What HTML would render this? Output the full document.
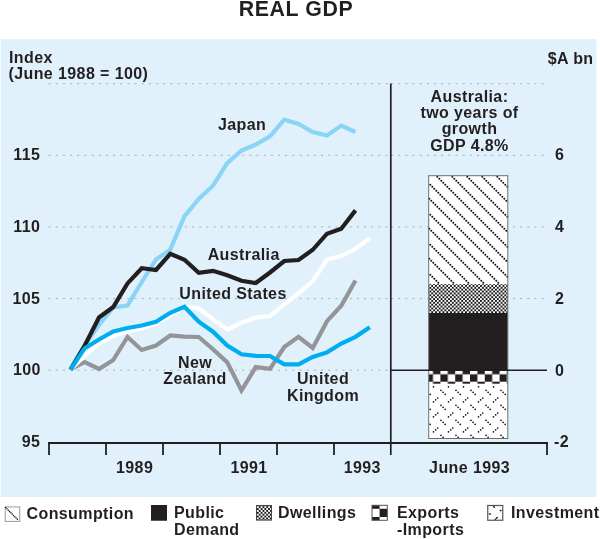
<!DOCTYPE html>
<html><head><meta charset="utf-8"><style>
html,body{margin:0;padding:0;background:#fff;}
body{width:600px;height:539px;overflow:hidden;}
svg{display:block;will-change:transform;}
text{font-family:"Liberation Sans",sans-serif;font-weight:bold;fill:#231f20;font-size:16px;letter-spacing:0.4px;}
.g{stroke:#a9adb2;stroke-width:1;stroke-dasharray:2 5.17;}
.ax{stroke:#231f20;stroke-width:1.8;fill:none;}
.ln{fill:none;stroke-width:4.2;stroke-linejoin:miter;stroke-miterlimit:4;}
.m{text-anchor:middle;}
.r{text-anchor:end;}
</style></head><body>
<svg width="600" height="539" viewBox="0 0 600 539">
<defs>
<pattern id="pDw" patternUnits="userSpaceOnUse" width="3.75" height="3.75">
<rect width="3.75" height="3.75" fill="#fff"/>
<rect width="1.875" height="1.875" fill="#1a1a1a"/>
<rect x="1.875" y="1.875" width="1.875" height="1.875" fill="#1a1a1a"/>
</pattern>
<pattern id="pEx" patternUnits="userSpaceOnUse" width="14.8" height="14.8" x="425.6" y="366.9">
<rect width="14.8" height="14.8" fill="#231f20"/>
<rect x="0" y="0" width="7.4" height="7.4" fill="#fff"/>
<rect x="7.4" y="7.4" width="7.4" height="7.4" fill="#fff"/>
</pattern>
</defs>
<rect x="0" y="0" width="600" height="539" fill="#fff"/>
<rect x="0.6" y="39.2" width="595.9" height="457.8" fill="#e0f1fc"/>
<text x="296" y="16" class="m" style="font-size:21.3px;letter-spacing:0.6px">REAL GDP</text>
<line x1="48.6" y1="83.7" x2="390" y2="83.7" class="g"/>
<line x1="48.6" y1="155.3" x2="390" y2="155.3" class="g"/>
<line x1="48.6" y1="226.9" x2="390" y2="226.9" class="g"/>
<line x1="48.6" y1="298.6" x2="390" y2="298.6" class="g"/>
<line x1="48.6" y1="370.2" x2="390" y2="370.2" class="g"/>
<line x1="391" y1="83.7" x2="546" y2="83.7" class="g"/>
<line x1="391" y1="155.3" x2="546" y2="155.3" class="g"/>
<line x1="391" y1="226.9" x2="546" y2="226.9" class="g"/>
<line x1="391" y1="298.6" x2="546" y2="298.6" class="g"/>
<!-- axes -->
<line x1="48" y1="443" x2="548" y2="443" class="ax"/>
<line x1="49" y1="443" x2="49" y2="455" class="ax"/>
<line x1="106" y1="443" x2="106" y2="455" class="ax"/>
<line x1="163" y1="443" x2="163" y2="455" class="ax"/>
<line x1="220" y1="443" x2="220" y2="455" class="ax"/>
<line x1="277" y1="443" x2="277" y2="455" class="ax"/>
<line x1="334" y1="443" x2="334" y2="455" class="ax"/>
<line x1="547" y1="442" x2="547" y2="455" class="ax"/>
<line x1="390.8" y1="83.5" x2="390.8" y2="455" class="ax" style="stroke-width:1.7"/>
<!-- bar -->
<rect x="428.7" y="175.7" width="79.10" height="262.80" fill="#fff"/>
<path d="M430.30,274.80h0 M432.30,276.80h0 M434.30,278.80h0 M436.30,280.80h0 M438.30,282.80h0 M429.30,258.80h0 M431.30,260.80h0 M433.30,262.80h0 M435.30,264.80h0 M437.30,266.80h0 M439.30,268.80h0 M441.30,270.80h0 M443.30,272.80h0 M445.30,274.80h0 M447.30,276.80h0 M449.30,278.80h0 M451.30,280.80h0 M453.30,282.80h0 M430.30,244.80h0 M432.30,246.80h0 M434.30,248.80h0 M436.30,250.80h0 M438.30,252.80h0 M440.30,254.80h0 M442.30,256.80h0 M444.30,258.80h0 M446.30,260.80h0 M448.30,262.80h0 M450.30,264.80h0 M452.30,266.80h0 M454.30,268.80h0 M456.30,270.80h0 M458.30,272.80h0 M460.30,274.80h0 M462.30,276.80h0 M464.30,278.80h0 M466.30,280.80h0 M468.30,282.80h0 M429.30,228.80h0 M431.30,230.80h0 M433.30,232.80h0 M435.30,234.80h0 M437.30,236.80h0 M439.30,238.80h0 M441.30,240.80h0 M443.30,242.80h0 M445.30,244.80h0 M447.30,246.80h0 M449.30,248.80h0 M451.30,250.80h0 M453.30,252.80h0 M455.30,254.80h0 M457.30,256.80h0 M459.30,258.80h0 M461.30,260.80h0 M463.30,262.80h0 M465.30,264.80h0 M467.30,266.80h0 M469.30,268.80h0 M471.30,270.80h0 M473.30,272.80h0 M475.30,274.80h0 M477.30,276.80h0 M479.30,278.80h0 M481.30,280.80h0 M483.30,282.80h0 M430.30,214.80h0 M432.30,216.80h0 M434.30,218.80h0 M436.30,220.80h0 M438.30,222.80h0 M440.30,224.80h0 M442.30,226.80h0 M444.30,228.80h0 M446.30,230.80h0 M448.30,232.80h0 M450.30,234.80h0 M452.30,236.80h0 M454.30,238.80h0 M456.30,240.80h0 M458.30,242.80h0 M460.30,244.80h0 M462.30,246.80h0 M464.30,248.80h0 M466.30,250.80h0 M468.30,252.80h0 M470.30,254.80h0 M472.30,256.80h0 M474.30,258.80h0 M476.30,260.80h0 M478.30,262.80h0 M480.30,264.80h0 M482.30,266.80h0 M484.30,268.80h0 M486.30,270.80h0 M488.30,272.80h0 M490.30,274.80h0 M492.30,276.80h0 M494.30,278.80h0 M496.30,280.80h0 M498.30,282.80h0 M429.30,198.80h0 M431.30,200.80h0 M433.30,202.80h0 M435.30,204.80h0 M437.30,206.80h0 M439.30,208.80h0 M441.30,210.80h0 M443.30,212.80h0 M445.30,214.80h0 M447.30,216.80h0 M449.30,218.80h0 M451.30,220.80h0 M453.30,222.80h0 M455.30,224.80h0 M457.30,226.80h0 M459.30,228.80h0 M461.30,230.80h0 M463.30,232.80h0 M465.30,234.80h0 M467.30,236.80h0 M469.30,238.80h0 M471.30,240.80h0 M473.30,242.80h0 M475.30,244.80h0 M477.30,246.80h0 M479.30,248.80h0 M481.30,250.80h0 M483.30,252.80h0 M485.30,254.80h0 M487.30,256.80h0 M489.30,258.80h0 M491.30,260.80h0 M493.30,262.80h0 M495.30,264.80h0 M497.30,266.80h0 M499.30,268.80h0 M501.30,270.80h0 M503.30,272.80h0 M505.30,274.80h0 M507.30,276.80h0 M430.30,184.80h0 M432.30,186.80h0 M434.30,188.80h0 M436.30,190.80h0 M438.30,192.80h0 M440.30,194.80h0 M442.30,196.80h0 M444.30,198.80h0 M446.30,200.80h0 M448.30,202.80h0 M450.30,204.80h0 M452.30,206.80h0 M454.30,208.80h0 M456.30,210.80h0 M458.30,212.80h0 M460.30,214.80h0 M462.30,216.80h0 M464.30,218.80h0 M466.30,220.80h0 M468.30,222.80h0 M470.30,224.80h0 M472.30,226.80h0 M474.30,228.80h0 M476.30,230.80h0 M478.30,232.80h0 M480.30,234.80h0 M482.30,236.80h0 M484.30,238.80h0 M486.30,240.80h0 M488.30,242.80h0 M490.30,244.80h0 M492.30,246.80h0 M494.30,248.80h0 M496.30,250.80h0 M498.30,252.80h0 M500.30,254.80h0 M502.30,256.80h0 M504.30,258.80h0 M506.30,260.80h0 M437.30,176.80h0 M439.30,178.80h0 M441.30,180.80h0 M443.30,182.80h0 M445.30,184.80h0 M447.30,186.80h0 M449.30,188.80h0 M451.30,190.80h0 M453.30,192.80h0 M455.30,194.80h0 M457.30,196.80h0 M459.30,198.80h0 M461.30,200.80h0 M463.30,202.80h0 M465.30,204.80h0 M467.30,206.80h0 M469.30,208.80h0 M471.30,210.80h0 M473.30,212.80h0 M475.30,214.80h0 M477.30,216.80h0 M479.30,218.80h0 M481.30,220.80h0 M483.30,222.80h0 M485.30,224.80h0 M487.30,226.80h0 M489.30,228.80h0 M491.30,230.80h0 M493.30,232.80h0 M495.30,234.80h0 M497.30,236.80h0 M499.30,238.80h0 M501.30,240.80h0 M503.30,242.80h0 M505.30,244.80h0 M507.30,246.80h0 M452.30,176.80h0 M454.30,178.80h0 M456.30,180.80h0 M458.30,182.80h0 M460.30,184.80h0 M462.30,186.80h0 M464.30,188.80h0 M466.30,190.80h0 M468.30,192.80h0 M470.30,194.80h0 M472.30,196.80h0 M474.30,198.80h0 M476.30,200.80h0 M478.30,202.80h0 M480.30,204.80h0 M482.30,206.80h0 M484.30,208.80h0 M486.30,210.80h0 M488.30,212.80h0 M490.30,214.80h0 M492.30,216.80h0 M494.30,218.80h0 M496.30,220.80h0 M498.30,222.80h0 M500.30,224.80h0 M502.30,226.80h0 M504.30,228.80h0 M506.30,230.80h0 M467.30,176.80h0 M469.30,178.80h0 M471.30,180.80h0 M473.30,182.80h0 M475.30,184.80h0 M477.30,186.80h0 M479.30,188.80h0 M481.30,190.80h0 M483.30,192.80h0 M485.30,194.80h0 M487.30,196.80h0 M489.30,198.80h0 M491.30,200.80h0 M493.30,202.80h0 M495.30,204.80h0 M497.30,206.80h0 M499.30,208.80h0 M501.30,210.80h0 M503.30,212.80h0 M505.30,214.80h0 M507.30,216.80h0 M482.30,176.80h0 M484.30,178.80h0 M486.30,180.80h0 M488.30,182.80h0 M490.30,184.80h0 M492.30,186.80h0 M494.30,188.80h0 M496.30,190.80h0 M498.30,192.80h0 M500.30,194.80h0 M502.30,196.80h0 M504.30,198.80h0 M506.30,200.80h0 M497.30,176.80h0 M499.30,178.80h0 M501.30,180.80h0 M503.30,182.80h0 M505.30,184.80h0 M507.30,186.80h0" stroke="#111" stroke-width="2.0" stroke-linecap="round" fill="none"/>
<rect x="428.7" y="284.2" width="79.10" height="28.80" fill="url(#pDw)"/>
<rect x="428.7" y="313.0" width="79.10" height="57.20" fill="#231f20"/>
<rect x="428.7" y="370.2" width="79.10" height="13.50" fill="url(#pEx)"/>
<path d="M430.20,394.30h0 M430.20,409.30h0 M430.20,424.30h0 M433.50,386.80h0 M441.00,390.30h0 M443.10,392.30h0 M445.20,394.30h0 M437.70,398.00h0 M435.70,399.80h0 M433.50,401.80h0 M441.00,405.30h0 M443.10,407.30h0 M445.20,409.30h0 M437.70,413.00h0 M435.70,414.80h0 M433.50,416.80h0 M441.00,420.30h0 M443.10,422.30h0 M445.20,424.30h0 M437.70,428.00h0 M435.70,429.80h0 M433.50,431.80h0 M441.00,435.30h0 M443.10,437.30h0 M448.50,386.80h0 M456.00,390.30h0 M458.10,392.30h0 M460.20,394.30h0 M452.70,398.00h0 M450.70,399.80h0 M448.50,401.80h0 M456.00,405.30h0 M458.10,407.30h0 M460.20,409.30h0 M452.70,413.00h0 M450.70,414.80h0 M448.50,416.80h0 M456.00,420.30h0 M458.10,422.30h0 M460.20,424.30h0 M452.70,428.00h0 M450.70,429.80h0 M448.50,431.80h0 M456.00,435.30h0 M458.10,437.30h0 M463.50,386.80h0 M471.00,390.30h0 M473.10,392.30h0 M475.20,394.30h0 M467.70,398.00h0 M465.70,399.80h0 M463.50,401.80h0 M471.00,405.30h0 M473.10,407.30h0 M475.20,409.30h0 M467.70,413.00h0 M465.70,414.80h0 M463.50,416.80h0 M471.00,420.30h0 M473.10,422.30h0 M475.20,424.30h0 M467.70,428.00h0 M465.70,429.80h0 M463.50,431.80h0 M471.00,435.30h0 M473.10,437.30h0 M478.50,386.80h0 M486.00,390.30h0 M488.10,392.30h0 M490.20,394.30h0 M482.70,398.00h0 M480.70,399.80h0 M478.50,401.80h0 M486.00,405.30h0 M488.10,407.30h0 M490.20,409.30h0 M482.70,413.00h0 M480.70,414.80h0 M478.50,416.80h0 M486.00,420.30h0 M488.10,422.30h0 M490.20,424.30h0 M482.70,428.00h0 M480.70,429.80h0 M478.50,431.80h0 M486.00,435.30h0 M488.10,437.30h0 M493.50,386.80h0 M501.00,390.30h0 M503.10,392.30h0 M505.20,394.30h0 M497.70,398.00h0 M495.70,399.80h0 M493.50,401.80h0 M501.00,405.30h0 M503.10,407.30h0 M505.20,409.30h0 M497.70,413.00h0 M495.70,414.80h0 M493.50,416.80h0 M501.00,420.30h0 M503.10,422.30h0 M505.20,424.30h0 M497.70,428.00h0 M495.70,429.80h0 M493.50,431.80h0 M501.00,435.30h0 M503.10,437.30h0" stroke="#111" stroke-width="1.7" stroke-linecap="round" fill="none"/>
<rect x="428.7" y="175.7" width="79.10" height="262.80" fill="none" stroke="#6d6e71" stroke-width="1"/>
<line x1="391" y1="370.2" x2="547" y2="370.2" class="ax" style="stroke-width:1.5"/>
<!-- lines -->
<polyline class="ln" stroke="#8ad4f6" points="70.50,369.50 84.75,345.00 99.00,325.00 113.25,307.50 127.50,305.50 141.75,282.00 156.00,259.50 170.25,249.60 184.50,216.20 198.75,199.00 213.00,185.70 227.25,163.10 241.50,150.50 255.75,144.50 270.00,136.40 284.25,119.60 298.50,124.00 312.75,132.00 327.00,135.60 341.25,125.60 355.50,132.00"/>
<polyline class="ln" stroke="#939598" points="70.50,369.50 84.75,362.00 99.00,369.00 113.25,360.00 127.50,337.00 141.75,350.00 156.00,345.50 170.25,335.50 184.50,336.70 198.75,337.00 213.00,349.20 227.25,362.40 241.50,390.50 255.75,367.10 270.00,368.80 284.25,347.00 298.50,336.80 312.75,348.00 327.00,321.20 341.25,305.70 355.50,280.50"/>
<polyline class="ln" stroke="#ffffff" points="70.50,369.50 84.75,355.50 99.00,343.50 113.25,336.00 127.50,331.50 141.75,328.30 156.00,323.50 170.25,315.50 184.50,307.00 198.75,308.30 213.00,319.20 227.25,329.50 241.50,322.70 255.75,317.60 270.00,316.00 284.25,304.30 298.50,293.40 312.75,281.20 327.00,259.50 341.25,256.00 355.50,248.80 369.75,238.40"/>
<polyline class="ln" stroke="#231f20" points="70.50,369.50 84.75,345.50 99.00,317.50 113.25,307.00 127.50,283.40 141.75,268.20 156.00,270.00 170.25,253.80 184.50,259.80 198.75,272.80 213.00,270.80 227.25,275.30 241.50,280.80 255.75,283.00 270.00,272.50 284.25,261.00 298.50,260.00 312.75,249.80 327.00,233.70 341.25,228.70 355.50,210.40"/>
<polyline class="ln" stroke="#00aeef" points="70.50,369.50 84.75,348.20 99.00,339.50 113.25,331.50 127.50,328.00 141.75,325.50 156.00,321.70 170.25,312.80 184.50,306.70 198.75,321.70 213.00,331.70 227.25,345.50 241.50,354.30 255.75,355.80 270.00,356.00 284.25,364.40 298.50,364.40 312.75,357.00 327.00,352.40 341.25,343.50 355.50,336.80 369.75,327.30"/>
<!-- left axis labels -->
<text x="9" y="62.7">Index</text>
<text x="8.5" y="78.7">(June 1988 = 100)</text>
<text x="40.3" y="160" class="r">115</text>
<text x="40.3" y="232" class="r">110</text>
<text x="40.3" y="304" class="r">105</text>
<text x="40.8" y="375" class="r">100</text>
<text x="40.3" y="447" class="r">95</text>
<!-- right axis labels -->
<text x="593.5" y="64" class="r">$A bn</text>
<text x="555" y="160">6</text>
<text x="555" y="232">4</text>
<text x="555" y="304">2</text>
<text x="555" y="375.5">0</text>
<text x="554" y="446.5">-2</text>
<!-- x labels -->
<text x="134.6" y="473.2" class="m">1989</text>
<text x="249" y="473.2" class="m">1991</text>
<text x="362.3" y="473.2" class="m">1993</text>
<text x="469.6" y="473" class="m">June 1993</text>
<!-- series labels -->
<text x="242" y="130" class="m">Japan</text>
<text x="243.7" y="259.7" class="m">Australia</text>
<text x="233" y="298.5" class="m">United States</text>
<text x="195" y="367.5" class="m">New</text>
<text x="195" y="384.2" class="m">Zealand</text>
<text x="323" y="384.2" class="m">United</text>
<text x="323" y="401.3" class="m">Kingdom</text>
<text x="469.5" y="101.7" class="m">Australia:</text>
<text x="469.5" y="118" class="m">two years of</text>
<text x="469.5" y="134.4" class="m">growth</text>
<text x="469.5" y="151.2" class="m">GDP 4.8%</text>
<!-- legend -->
<rect x="5.25" y="506.9" width="14.5" height="14.5" fill="#fff" stroke="#999" stroke-width="1"/>
<path d="M5.6,507.5 L18,519.9" stroke="#111" stroke-width="1.4" stroke-dasharray="0.01 1.85" stroke-linecap="round"/>
<text x="26.5" y="518.5">Consumption</text>
<rect x="151" y="505" width="16" height="15.75" fill="#231f20"/>
<text x="174" y="518">Public</text>
<text x="174" y="534.7">Demand</text>
<rect x="256.5" y="505.5" width="15" height="14.6" fill="url(#pDw)" stroke="#444" stroke-width="1"/>
<text x="278" y="518">Dwellings</text>
<g>
<rect x="372" y="505.3" width="15.3" height="15" fill="#fff"/>
<rect x="372" y="505.3" width="7.6" height="3.5" fill="#231f20"/>
<rect x="379.6" y="508.8" width="7.7" height="8.2" fill="#231f20"/>
<rect x="372" y="517" width="7.6" height="3.3" fill="#231f20"/>
<rect x="372" y="505.3" width="15.3" height="15" fill="none" stroke="#555" stroke-width="1"/>
</g>
<text x="397" y="518">Exports</text>
<text x="397" y="534.7">-Imports</text>
<g>
<rect x="487.75" y="505.5" width="15" height="14.75" fill="#fff" stroke="#555" stroke-width="1.2"/>
<path d="M493.5,506.6h0 M501,510.5h0 M489.5,514h0 M497.25,517.5h0 M495.25,519.3h0 M494.5,507.3h0 M500.3,510.5h0 M490.3,514h0 M496.4,518.3h0" stroke="#111" stroke-width="1.4" stroke-linecap="round"/>
</g>
<text x="511" y="518">Investment</text>
</svg>
</body></html>
